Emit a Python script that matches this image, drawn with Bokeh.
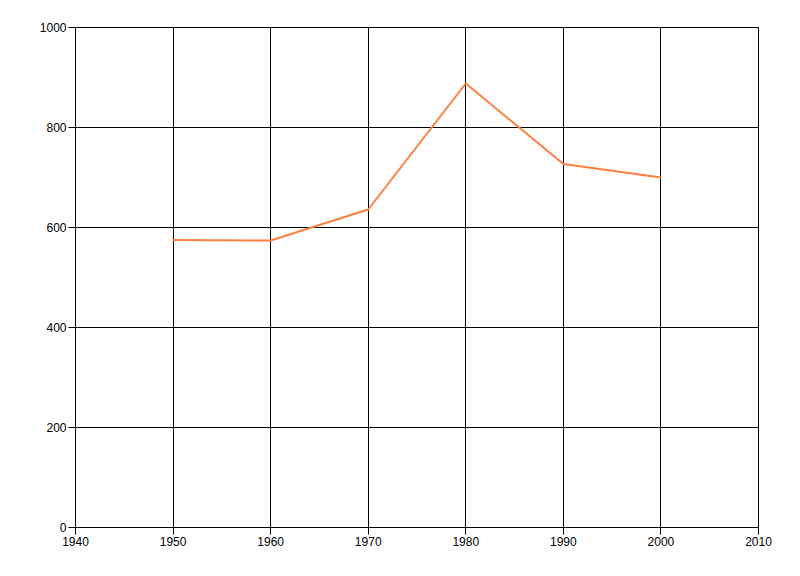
from bokeh.plotting import figure
from bokeh.embed import file_html
from bokeh.resources import INLINE
from bokeh.models import Range1d, FixedTicker

years = [1950, 1960, 1970, 1980, 1990, 2000]
values = [575, 574, 636, 888, 727, 700]
x_ticks = [1940, 1950, 1960, 1970, 1980, 1990, 2000, 2010]
y_ticks = [0, 200, 400, 600, 800, 1000]

p = figure(width=792, height=568, output_backend="svg", toolbar_location=None,
           x_range=Range1d(1940, 2010), y_range=Range1d(0, 1000),
           min_border_left=75, min_border_top=27, min_border_right=34, min_border_bottom=41)

p.line(years, values, line_color="#FF7F40", line_width=2)

for ax in (p.xaxis, p.yaxis):
    ax.axis_line_color = "black"
    ax.major_tick_line_color = "black"
    ax.minor_tick_line_color = None
    ax.major_tick_in = 0
    ax.major_tick_out = 7
    ax.major_label_text_font = "Liberation Sans"
    ax.major_label_text_font_size = "12px"
    ax.major_label_text_color = "black"
    ax.major_label_standoff = 2

p.xaxis.ticker = FixedTicker(ticks=x_ticks)
p.yaxis.ticker = FixedTicker(ticks=y_ticks)

p.xgrid.ticker = FixedTicker(ticks=x_ticks)
p.ygrid.ticker = FixedTicker(ticks=y_ticks)
p.grid.grid_line_color = "black"
p.grid.grid_line_alpha = 1.0
p.grid.grid_line_width = 1
p.outline_line_color = "black"
p.outline_line_alpha = 1.0

open("out.html", "w").write(file_html(p, INLINE))
